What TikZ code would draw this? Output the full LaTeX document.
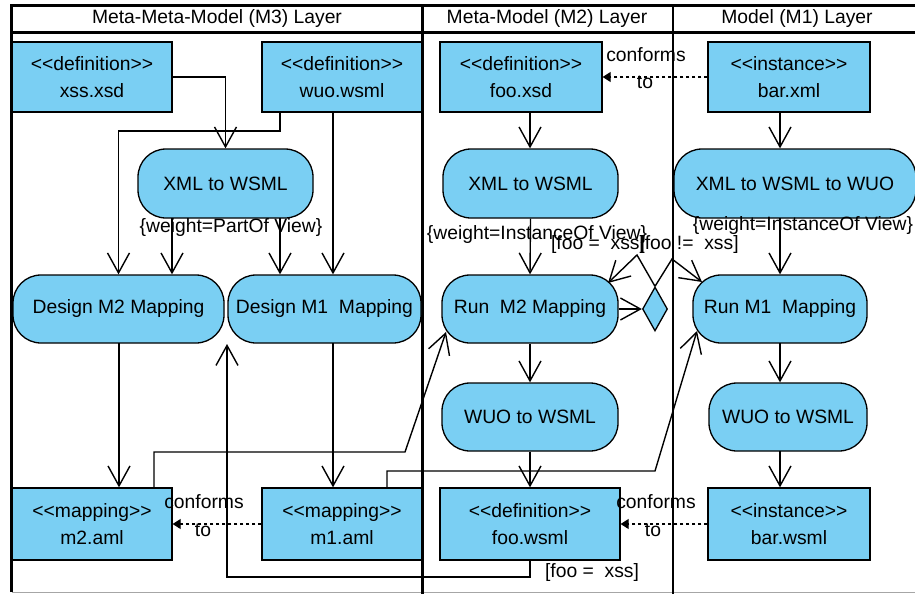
\documentclass[tikz,border=0pt]{standalone}
\usepackage{fontspec}
\newfontfamily\dfont{Liberation Sans}
\usetikzlibrary{arrows.meta,shapes.geometric,calc}
\definecolor{nodeblue}{RGB}{122,207,243}
\newcommand\stL{<{}<}
\newcommand\stR{>{}>}
\begin{document}
\begin{tikzpicture}[x=1pt,y=-1pt,
  every node/.style={font=\dfont\fontsize{19.3}{27}\selectfont},
  lane/.style={line width=2.6pt,black},
  boxnode/.style={draw=black,line width=1.3pt,fill=nodeblue,rectangle,inner sep=0pt,align=center},
  actnode/.style={draw=black,line width=1.3pt,fill=nodeblue,rectangle,rounded corners=28pt,inner sep=0pt,align=center},
  decnode/.style={draw=black,line width=1.3pt,fill=nodeblue,diamond,inner sep=0pt,minimum width=25pt,minimum height=44pt,aspect=0.57},
  arr/.style={line width=1.4pt,-{Straight Barb[length=20pt,width=22pt,line width=1.4pt]}},
  conf/.style={line width=1.1pt,dash pattern=on 3pt off 3pt,-{Triangle[length=8pt,width=10pt]}},
  lbl/.style={inner sep=0pt,fill=none}]
\useasboundingbox (0,0) rectangle (915,594);
\fill[white] (0,0) rectangle (915,594);
% swimlanes
\draw[gray!70,line width=1pt] (12,592) -- (915,592);
\draw[lane] (11.5,5.5) -- (915,5.5);
\draw[lane] (11.5,32.5) -- (915,32.5);
\draw[lane] (11.5,4.2) -- (11.5,592);
\draw[lane] (422.5,4.2) -- (422.5,594);
\draw[lane] (673,4.2) -- (673,594);
\node[lbl] (h3) at (217,19) {Meta-Meta-Model (M3) Layer};
\node[lbl] (h2) at (547,19) {Meta-Model (M2) Layer};
\node[lbl] (h1) at (797,19) {Model (M1) Layer};
% nodes
\node[boxnode,minimum width=160pt,minimum height=70pt] (xss) at (92,77) {\stL definition\stR\\xss.xsd};
\node[boxnode,minimum width=160pt,minimum height=70pt] (wuo) at (342,77) {\stL definition\stR\\wuo.wsml};
\node[boxnode,minimum width=162pt,minimum height=70pt] (fooxsd) at (521,77) {\stL definition\stR\\foo.xsd};
\node[boxnode,minimum width=162pt,minimum height=70pt] (barxml) at (789,77) {\stL instance\stR\\bar.xml};
\node[actnode,minimum width=175pt,minimum height=69pt] (xw1) at (225.5,183.5) {XML to WSML};
\node[actnode,minimum width=175pt,minimum height=69pt] (xw2) at (530.5,183.5) {XML to WSML};
\node[actnode,minimum width=242pt,minimum height=69pt] (xww) at (795,183.5) {XML to WSML to WUO};
\node[actnode,minimum width=211pt,minimum height=68pt] (dm2) at (118.5,309) {Design M2 Mapping};
\node[actnode,minimum width=193pt,minimum height=68pt] (dm1) at (324.5,309) {Design M1 \ Mapping};
\node[actnode,minimum width=176pt,minimum height=68pt] (rm2) at (530,309) {Run \ M2 Mapping};
\node[decnode] (dec) at (655,309) {};
\node[actnode,minimum width=174pt,minimum height=68pt] (rm1) at (780,309) {Run M1 \ Mapping};
\node[actnode,minimum width=176pt,minimum height=68pt] (ww2) at (530,417) {WUO to WSML};
\node[actnode,minimum width=158pt,minimum height=68pt] (ww3) at (788,417) {WUO to WSML};
\node[boxnode,minimum width=160pt,minimum height=72pt] (m2) at (92,524) {\stL mapping\stR\\m2.aml};
\node[boxnode,minimum width=160pt,minimum height=72pt] (m1) at (342,524) {\stL mapping\stR\\m1.aml};
\node[boxnode,minimum width=180pt,minimum height=72pt] (foows) at (530,524) {\stL definition\stR\\foo.wsml};
\node[boxnode,minimum width=162pt,minimum height=72pt] (barws) at (789,524) {\stL instance\stR\\bar.wsml};
% helper coordinates
\coordinate (wa) at (280,112);
\coordinate (wb) at (333,112);
\coordinate (xa) at (172,218);
\coordinate (xb) at (280,218);
\coordinate (da) at (119,343);
\coordinate (db) at (333,343);
\coordinate (ma) at (154,488);
\coordinate (mb) at (387,488);
\coordinate (ra) at (446,332);
\coordinate (rb) at (697,331);
\coordinate (fa) at (530,560);
\coordinate (fx) at (530,112);
\coordinate (tgt) at (227,344);
\coordinate (l3a) at (780,112);
\coordinate (l3b) at (780,218);
\coordinate (l3c) at (780,343);
\coordinate (l3d) at (780,451);
% connectors lane 1
\draw[arr] (xss.east) -| (xw1.north);
\draw[arr] (wa) -- (280,131) -| (dm2.north);
\draw[arr] (wb) -- (wb |- dm1.north);
\draw[arr] (xa) -- (xa |- dm2.north);
\draw[arr] (xb) -- (xb |- dm1.north);
\draw[arr] (da) -- (da |- m2.north);
\draw[arr] (db) -- (db |- m1.north);
\draw[conf] (m1.west) -- (m2.east);
\draw[arr] (ma) -- (154,452) -- (405,452) -- (ra);
\draw[arr] (mb) -- (387,471) -- (655,471) -- (rb);
\draw[arr] (fa) -- (530,577) -- (227,577) -- (tgt);
% lane 2
\draw[arr] (fx) -- (fx |- xw2.north);
\draw[arr] (xw2.south) -- (rm2.north);
\draw[arr] (rm2.south) -- (ww2.north);
\draw[arr] (ww2.south) -- (foows.north);
\draw[arr] (rm2.east) -- (dec.west);
\draw[arr] (dec.north) -- (637,255) -- (608,283);
\draw[arr] (dec.north) -- (672,259) -- (702,282);
\draw[conf] (barxml.west) -- (fooxsd.east);
\draw[conf] (barws.west) -- (foows.east);
% lane 3
\draw[arr] (l3a) -- (l3a |- xww.north);
\draw[arr] (l3b) -- (l3b |- rm1.north);
\draw[arr] (l3c) -- (l3c |- ww3.north);
\draw[arr] (l3d) -- (l3d |- barws.north);
% labels
\node[lbl] (lp) at (231,228) {\{weight=PartOf View\}};
\node[lbl] (li2) at (537,235) {\{weight=InstanceOf View\}};
\node[lbl] (li3) at (803,226) {\{weight=InstanceOf View\}};
\node[lbl] (g1) at (598,245) {[foo = \ xss]};
\node[lbl] (g2) at (689,245) {[foo != \ xss]};
\node[lbl] (g3) at (592,573) {[foo = \ xss]};
\node[lbl] (c1a) at (646,55) {conforms};
\node[lbl] (c1b) at (645,82) {to};
\node[lbl] (c2a) at (204,502) {conforms};
\node[lbl] (c2b) at (203,530) {to};
\node[lbl] (c3a) at (656,502) {conforms};
\node[lbl] (c3b) at (653,530) {to};
\end{tikzpicture}
\end{document}
